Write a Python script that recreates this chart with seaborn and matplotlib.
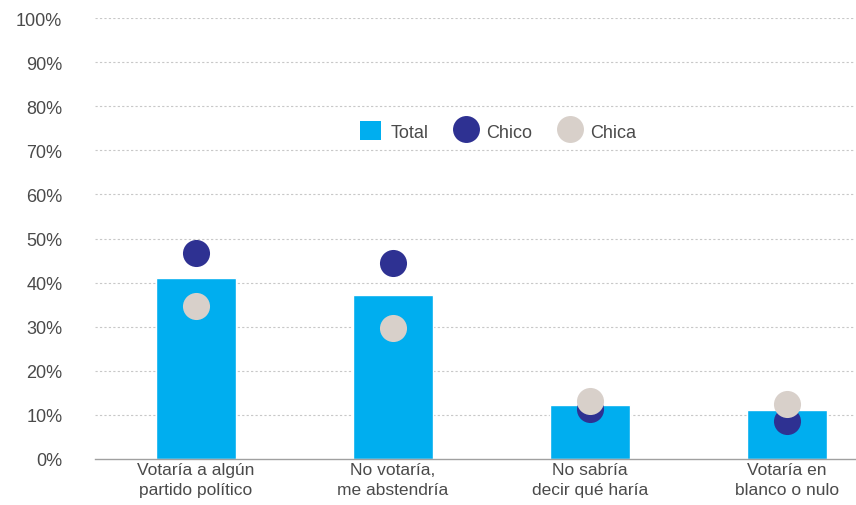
import matplotlib
matplotlib.use("Agg")
import matplotlib.pyplot as plt
from matplotlib.lines import Line2D
from matplotlib.patches import Patch
import seaborn as sns
import pandas as pd

categories = ["Votaría a algún\npartido político", "No votaría,\nme abstendría",
              "No sabría\ndecir qué haría", "Votaría en\nblanco o nulo"]
total = [41.0, 37.3, 12.2, 11.0]
chico = [46.6, 44.4, 11.3, 8.7]
chica = [34.8, 29.6, 13.1, 12.5]
yticks = [0, 10, 20, 30, 40, 50, 60, 70, 80, 90, 100]
ytick_labels = [f"{v}%" for v in yticks]

c_total = "#00AEEF"
c_chico = "#2E3192"
c_chica = "#D8D0CA"
c_text = "#4A4A4A"

sns.set_theme(style="white")
plt.rcParams['font.family'] = ['Liberation Sans', 'DejaVu Sans']

df = pd.DataFrame({"cat": categories, "Total": total, "Chico": chico, "Chica": chica})

fig = plt.figure(figsize=(8.56, 5.06), dpi=100)
ax = fig.add_axes([95/856, 46/506, 760/856, 441/506])

sns.barplot(data=df, x="cat", y="Total", color=c_total, width=0.41,
            saturation=1, ax=ax, zorder=2)
sns.scatterplot(data=df, x="cat", y="Chico", color=c_chico, s=380,
                linewidth=0, ax=ax, zorder=3)
sns.scatterplot(data=df, x="cat", y="Chica", color=c_chica, s=380,
                linewidth=0, ax=ax, zorder=4)

ax.set_ylim(0, 100)
ax.set_xlim(-0.513, 3.345)
ax.set_yticks(yticks)
ax.set_yticklabels(ytick_labels)
ax.set_xlabel("")
ax.set_ylabel("")
for y in yticks[1:]:
    ax.axhline(y, color="#C8C8C8", linewidth=0.8, linestyle=(0, (2, 2)), zorder=1)
for s in ["top", "right", "left"]:
    ax.spines[s].set_visible(False)
ax.spines["bottom"].set_color("#A0A0A0")
ax.spines["bottom"].set_linewidth(1.0)
ax.tick_params(axis="y", length=0, pad=23.5, labelsize=13, labelcolor=c_text)
ax.tick_params(axis="x", length=0, pad=2, labelsize=12.5, labelcolor=c_text)
for lab in ax.get_xticklabels():
    lab.set_linespacing(1.45)

handles = [
    Patch(facecolor=c_total, edgecolor="none", label="Total"),
    Line2D([], [], marker="o", linestyle="none", markersize=19.4,
           markerfacecolor=c_chico, markeredgewidth=0, label="Chico"),
    Line2D([], [], marker="o", linestyle="none", markersize=19.4,
           markerfacecolor=c_chica, markeredgewidth=0, label="Chica"),
]
leg = ax.legend(handles=handles, loc="center", bbox_to_anchor=(498/856, (506-132)/506),
                bbox_transform=fig.transFigure, ncol=3, frameon=False,
                fontsize=13, handlelength=1.15, handleheight=1.25,
                handletextpad=0.55, columnspacing=1.5)
for t in leg.get_texts():
    t.set_color(c_text)

fig.savefig("out.png", dpi=100)
